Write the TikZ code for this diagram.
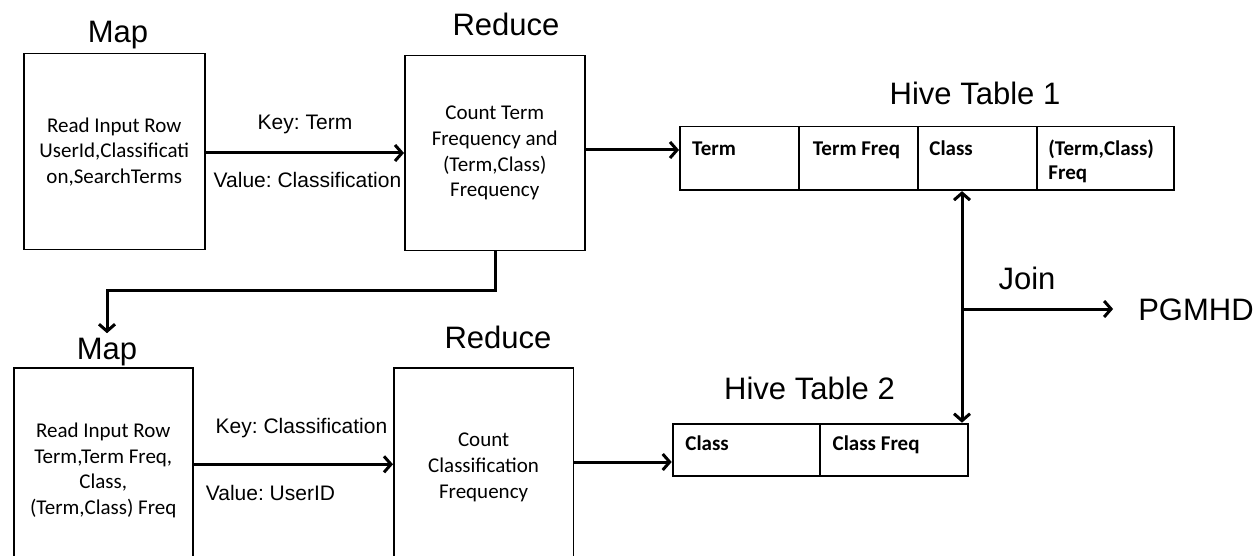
\documentclass[tikz,border=0pt]{standalone}
\usepackage{fontspec}
\setmainfont{Liberation Sans}
\newfontfamily\carlito{Carlito}
\usetikzlibrary{arrows.meta}
\frenchspacing

\begin{document}
\begin{tikzpicture}[x=1pt,y=-1pt,
  heading/.style={font=\fontsize{31}{31}\selectfont, inner sep=0pt, text height=22.2pt, text depth=0pt},
  kvlabel/.style={font=\fontsize{21}{21}\selectfont, inner sep=0pt, text height=15pt, text depth=0pt},
  stagebox/.style={draw, line width=1.5pt, anchor=north west, align=center, inner sep=0pt,
    font=\carlito\fontsize{21}{25.6}\selectfont},
  cell/.style={draw, line width=1.8pt, anchor=north west, inner sep=0pt},
  celltext/.style={anchor=north west, align=left, inner sep=0pt, text height=13.5pt,
    font=\carlito\bfseries\fontsize{21}{24}\selectfont},
  flow/.style={line width=3pt, -{Straight Barb[length=7pt,width=16pt]}},
  twoway/.style={line width=3pt, {Straight Barb[length=7pt,width=16pt]}-{Straight Barb[length=7pt,width=16pt]}},
]
\useasboundingbox (0,0) rectangle (1259,556);
\clip (0,0) rectangle (1259,556);

% ---- first MapReduce job ----
\node[heading] (map1t) at (118,31) {Map};
\node[heading] (red1t) at (506,24.5) {Reduce};
\node[stagebox, minimum width=181pt, minimum height=196pt] (map1) at (23,53)
  {Read Input Row\\UserId,Classificati\\on,SearchTerms};
\node[stagebox, minimum width=180pt, minimum height=195pt] (red1) at (404,55)
  {Count Term\\Frequency and\\(Term,Class)\\Frequency};
\node[kvlabel] (key1) at (305,121.7) {Key: Term};
\node[kvlabel] (val1) at (307.5,180) {Value: Classification};

% ---- Hive Table 1 ----
\node[heading] (hive1t) at (975,93) {Hive Table 1};
\node[cell, minimum width=118.7pt, minimum height=63.6pt] (t1a) at (679,125.7) {};
\node[cell, minimum width=119pt, minimum height=63.6pt] (t1b) at (797.7,125.7) {};
\node[cell, minimum width=119pt, minimum height=63.6pt] (t1c) at (916.7,125.7) {};
\node[cell, minimum width=137.3pt, minimum height=63.6pt] (t1d) at (1035.7,125.7) {};
\node[celltext] (t1atx) at ([xshift=13pt,yshift=-15.7pt]t1a.north west) {Term};
\node[celltext] (t1btx) at ([xshift=15pt,yshift=-15.7pt]t1b.north west) {Term Freq};
\node[celltext] (t1ctx) at ([xshift=12.5pt,yshift=-15.7pt]t1c.north west) {Class};
\node[celltext, text height=37.5pt] (t1dtx) at ([xshift=12.5pt,yshift=-15.7pt]t1d.north west) {(Term,Class)\\Freq};

% ---- second MapReduce job ----
\node[heading] (map2t) at (107,348.5) {Map};
\node[heading] (red2t) at (498,337.5) {Reduce};
\node[stagebox, minimum width=179pt, minimum height=205pt] (map2) at (13,367)
  {Read Input Row\\Term,Term Freq,\\Class,\\(Term,Class) Freq};
\node[stagebox, minimum width=179.7pt, minimum height=199.4pt] (red2) at (393,367)
  {Count\\Classification\\Frequency};
\node[kvlabel] (key2) at (301.5,425.7) {Key: Classification};
\node[kvlabel] (val2) at (270.5,493.3) {Value: UserID};

% ---- Hive Table 2 ----
\node[heading] (hive2t) at (809.5,388.5) {Hive Table 2};
\node[cell, minimum width=147.3pt, minimum height=52.3pt] (t2a) at (671.7,422.7) {};
\node[cell, minimum width=147.7pt, minimum height=52.3pt] (t2b) at (819,422.7) {};
\node[celltext] (t2atx) at ([xshift=13.5pt,yshift=-14.5pt]t2a.north west) {Class};
\node[celltext] (t2btx) at ([xshift=13.5pt,yshift=-14.5pt]t2b.north west) {Class Freq};

% ---- join ----
\node[heading] (joint) at (1027,278) {Join};
\node[heading] (pg) at (1196,309) {PGMHD};

% arrow levels and bends
\coordinate (lvA) at (0,153);
\coordinate (lvB) at (0,150);
\coordinate (lvC) at (0,464.3);
\coordinate (lvD) at (0,462);
\coordinate (fold) at (495,291);
\coordinate (jn) at (962,309);

\draw[flow] (map1.east |- lvA) -- (red1.west |- lvA);
\draw[flow] (red1.east |- lvB) -- (t1a.west |- lvB);
\draw[flow] (red1.south -| fold) -- (fold) -- (fold -| map2t.north) -- ([yshift=4pt]map2t.north);
\draw[flow] (map2.east |- lvC) -- (red2.west |- lvC);
\draw[flow] (red2.east |- lvD) -- (t2a.west |- lvD);
\draw[twoway] (jn |- t1c.south) -- (jn |- t2b.north);
\draw[flow, shorten >=25pt] (jn) -- (pg.west);
\end{tikzpicture}
\end{document}
